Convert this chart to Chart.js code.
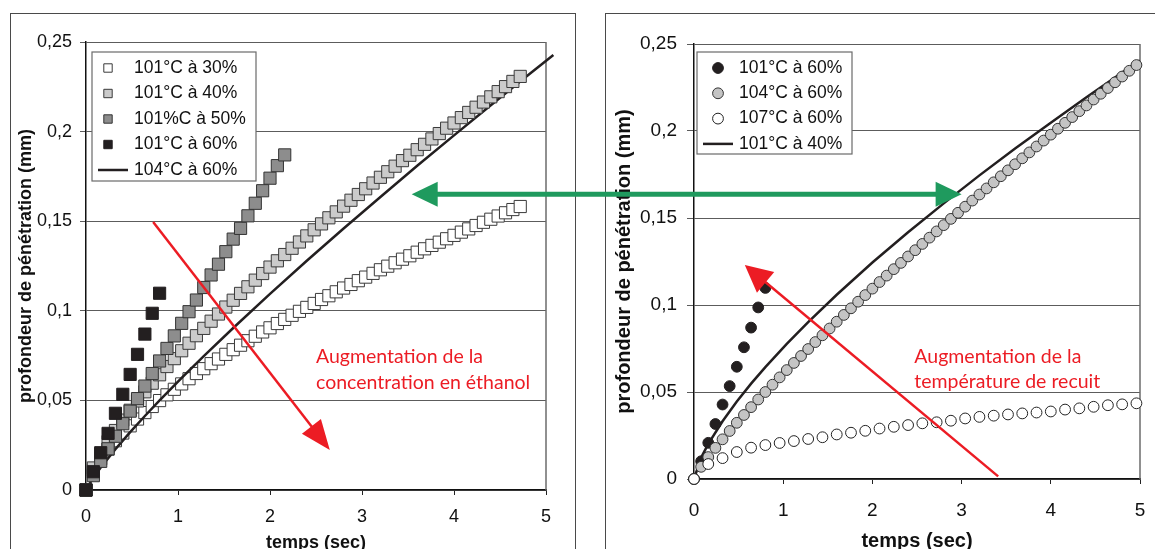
<!DOCTYPE html>
<html lang="fr">
<head>
<meta charset="utf-8">
<title>Profondeur de pénétration</title>
<script src="https://cdn.jsdelivr.net/npm/chart.js@4.4.1/dist/chart.umd.min.js"></script>
<style>
  html, body { margin: 0; padding: 0; background: #fff; }
  body { width: 1155px; height: 549px; position: relative; overflow: hidden; }
  .cadre { position: absolute; box-sizing: border-box; border: 1.5px solid #4a4a4a; border-bottom: none; }
  #cadreG { left: 10px; top: 13px; width: 566px; height: 600px; }
  #cadreD { left: 605px; top: 13px; width: 700px; height: 600px; }
  canvas { position: absolute; }
  #graphG { left: 10px; top: 13px; }
  #graphD { left: 605px; top: 13px; }
  #fleche { left: 0; top: 0; pointer-events: none; }
</style>
</head>
<body>
<div class="cadre" id="cadreG"></div>
<div class="cadre" id="cadreD"></div>
<canvas id="graphG" width="565" height="560"></canvas>
<canvas id="graphD" width="550" height="560"></canvas>
<canvas id="fleche" width="1155" height="549"></canvas>
<script>
// temps (sec), mesures toutes les 0,08 s
const t08 = [0, 0.08, 0.16, 0.24, 0.32, 0.4, 0.48, 0.56, 0.64, 0.72, 0.8, 0.88, 0.96, 1.04, 1.12, 1.2,
  1.28, 1.36, 1.44, 1.52, 1.6, 1.68, 1.76, 1.84, 1.92, 2, 2.08, 2.16, 2.24, 2.32, 2.4, 2.48, 2.56, 2.64,
  2.72, 2.8, 2.88, 2.96, 3.04, 3.12, 3.2, 3.28, 3.36, 3.44, 3.52, 3.6, 3.68, 3.76, 3.84, 3.92, 4, 4.08,
  4.16, 4.24, 4.32, 4.4, 4.48, 4.56, 4.64, 4.72, 4.8, 4.88, 4.96];
// temps (sec), mesures toutes les 0,16 s (107°C)
const t16 = [0, 0.16, 0.32, 0.48, 0.64, 0.8, 0.96, 1.12, 1.28, 1.44, 1.6, 1.76, 1.92, 2.08, 2.24, 2.4,
  2.56, 2.72, 2.88, 3.04, 3.2, 3.36, 3.52, 3.68, 3.84, 4, 4.16, 4.32, 4.48, 4.64, 4.8, 4.96];

// graphe de gauche : profondeur (mm)
const prof101a30 = [0, 0.0112, 0.0175, 0.0228, 0.0275, 0.0318, 0.0358, 0.0396, 0.0432, 0.0466, 0.0499,
  0.0531, 0.0562, 0.0592, 0.0621, 0.0650, 0.0677, 0.0705, 0.0731, 0.0757, 0.0783, 0.0808, 0.0833, 0.0858,
  0.0882, 0.0905, 0.0929, 0.0952, 0.0975, 0.0997, 0.1019, 0.1041, 0.1063, 0.1084, 0.1106, 0.1127, 0.1147,
  0.1168, 0.1188, 0.1209, 0.1229, 0.1249, 0.1268, 0.1288, 0.1307, 0.1327, 0.1346, 0.1365, 0.1383, 0.1402,
  0.1421, 0.1439, 0.1457, 0.1476, 0.1494, 0.1511, 0.1529, 0.1547, 0.1565, 0.1582];
const prof101a40 = [0, 0.0123, 0.0202, 0.0270, 0.0332, 0.0390, 0.0445, 0.0497, 0.0548, 0.0596, 0.0643,
  0.0689, 0.0733, 0.0777, 0.0819, 0.0861, 0.0902, 0.0942, 0.0982, 0.1021, 0.1059, 0.1097, 0.1134, 0.1171,
  0.1208, 0.1244, 0.1279, 0.1314, 0.1349, 0.1384, 0.1418, 0.1452, 0.1485, 0.1519, 0.1552, 0.1584, 0.1617,
  0.1649, 0.1681, 0.1713, 0.1745, 0.1776, 0.1807, 0.1838, 0.1868, 0.1899, 0.1929, 0.1959, 0.1989, 0.2019,
  0.2048, 0.2078, 0.2107, 0.2136, 0.2165, 0.2194, 0.2223, 0.2251, 0.2280, 0.2308];
const prof101a50 = [0, 0.008, 0.016, 0.023, 0.030, 0.037, 0.044, 0.051, 0.058, 0.065, 0.072, 0.079,
  0.086, 0.093, 0.0995, 0.106, 0.113, 0.120, 0.126, 0.133, 0.140, 0.146, 0.153, 0.160, 0.167, 0.174,
  0.181, 0.187];
const prof101a60 = [0, 0.0102, 0.0208, 0.0316, 0.0428, 0.0534, 0.0645, 0.0757, 0.087, 0.0986, 0.1098];
const tCourbe104 = [0, 0.08, 0.16, 0.32, 0.48, 0.64, 0.8, 1.04, 1.28, 1.6, 2, 2.4, 2.8, 3.2, 3.6, 4, 4.4, 4.8, 5.08];
const courbe104a60 = [0, 0.0070, 0.0126, 0.0228, 0.0323, 0.0413, 0.0500, 0.0626, 0.0747, 0.0904, 0.1094,
  0.1279, 0.1459, 0.1635, 0.1809, 0.1979, 0.2147, 0.2313, 0.2428];

// graphe de droite : profondeur (mm)
const prof104a60 = [0, 0.0070, 0.0126, 0.0179, 0.0228, 0.0276, 0.0323, 0.0368, 0.0413, 0.0457, 0.0500,
  0.0542, 0.0584, 0.0626, 0.0667, 0.0707, 0.0747, 0.0787, 0.0826, 0.0865, 0.0904, 0.0943, 0.0981, 0.1019,
  0.1057, 0.1094, 0.1132, 0.1169, 0.1206, 0.1242, 0.1279, 0.1315, 0.1351, 0.1387, 0.1423, 0.1459, 0.1495,
  0.1530, 0.1565, 0.1600, 0.1635, 0.1670, 0.1705, 0.1740, 0.1774, 0.1809, 0.1843, 0.1877, 0.1911, 0.1945,
  0.1979, 0.2013, 0.2047, 0.2080, 0.2114, 0.2147, 0.2181, 0.2214, 0.2247, 0.2280, 0.2313, 0.2346, 0.2379];
const prof107a60 = [0, 0.0086, 0.012, 0.0155, 0.018, 0.0195, 0.0207, 0.0218, 0.023, 0.024, 0.0256, 0.0266,
  0.0277, 0.029, 0.030, 0.031, 0.032, 0.0326, 0.0335, 0.0348, 0.0357, 0.0364, 0.0371, 0.0377, 0.0382,
  0.0388, 0.0399, 0.0406, 0.0415, 0.0424, 0.0429, 0.0435];
const tCourbe101 = [0, 0.08, 0.16, 0.32, 0.48, 0.64, 0.8, 1.04, 1.28, 1.6, 2, 2.4, 2.8, 3.2, 3.6, 4, 4.4, 4.8, 5];
const courbe101a40 = [0, 0.0123, 0.0202, 0.0332, 0.0445, 0.0548, 0.0643, 0.0777, 0.0902, 0.1059, 0.1244,
  0.1418, 0.1584, 0.1745, 0.1899, 0.2048, 0.2194, 0.2336, 0.2405];

const xTickLabels = ['0', '1', '2', '3', '4', '5'];
const yTickLabels = ['0', '0,05', '0,1', '0,15', '0,2', '0,25'];

const police = "'Liberation Sans', Arial, sans-serif";
const rouge = '#ec1c24';

function points(t, v) {
    return v.map(function (y, i) { return { x: t[i], y: y }; });
}

function marqueur(ctx, style, x, y, r, fond, trait) {
    ctx.beginPath();
    if (style === 'rect') ctx.rect(x - r, y - r, 2 * r, 2 * r);
    else ctx.arc(x, y, r, 0, 2 * Math.PI);
    ctx.fillStyle = fond;
    ctx.fill();
    ctx.lineWidth = 1;
    ctx.strokeStyle = trait;
    ctx.stroke();
}

function drawArrow(ctx, x1, y1, x2, y2, o) {
    const ang = Math.atan2(y2 - y1, x2 - x1);
    const c = Math.cos(ang), s = Math.sin(ang);
    const recul = o.head * 0.8;
    ctx.save();
    ctx.strokeStyle = o.color;
    ctx.fillStyle = o.color;
    ctx.lineWidth = o.width;
    ctx.beginPath();
    ctx.moveTo(o.both ? x1 + c * recul : x1, o.both ? y1 + s * recul : y1);
    ctx.lineTo(x2 - c * recul, y2 - s * recul);
    ctx.stroke();
    const pointes = o.both ? [[x2, y2, 1], [x1, y1, -1]] : [[x2, y2, 1]];
    pointes.forEach(function (p) {
        const cx = c * p[2], sy = s * p[2];
        ctx.beginPath();
        ctx.moveTo(p[0], p[1]);
        ctx.lineTo(p[0] - o.head * cx + o.half * sy, p[1] - o.head * sy - o.half * cx);
        ctx.lineTo(p[0] - o.head * cx - o.half * sy, p[1] - o.head * sy + o.half * cx);
        ctx.closePath();
        ctx.fill();
    });
    ctx.restore();
}

// bord droit de la zone de tracé
const bordDroit = {
    id: 'bordDroit',
    beforeDatasetsDraw(chart) {
        const a = chart.chartArea, ctx = chart.ctx;
        ctx.save();
        ctx.strokeStyle = '#6b6b6b';
        ctx.lineWidth = 1.5;
        ctx.beginPath();
        ctx.moveTo(a.right, a.top);
        ctx.lineTo(a.right, a.bottom);
        ctx.stroke();
        ctx.restore();
    }
};

// légende encadrée dans la zone de tracé
function legende(c) {
    return {
        id: 'legende',
        afterDraw(chart) {
            const ctx = chart.ctx, a = chart.chartArea;
            const x0 = a.left + c.dx, y0 = a.top + c.dy;
            ctx.save();
            ctx.fillStyle = '#fff';
            ctx.fillRect(x0, y0, c.w, c.h);
            ctx.strokeStyle = '#6a6a6a';
            ctx.lineWidth = 1.2;
            ctx.strokeRect(x0, y0, c.w, c.h);
            ctx.font = c.font;
            ctx.textBaseline = 'middle';
            ctx.textAlign = 'left';
            chart.data.datasets.forEach(function (ds, i) {
                const y = y0 + c.first + i * c.rowH;
                if (ds.showLine) {
                    ctx.strokeStyle = ds.borderColor;
                    ctx.lineWidth = ds.borderWidth;
                    ctx.beginPath();
                    ctx.moveTo(x0 + c.lineFrom, y);
                    ctx.lineTo(x0 + c.lineTo, y);
                    ctx.stroke();
                } else {
                    marqueur(ctx, ds.pointStyle, x0 + c.markX, y, c.markR, ds.backgroundColor, ds.borderColor);
                }
                ctx.fillStyle = '#111';
                ctx.fillText(ds.label, x0 + c.textX, y);
            });
            ctx.restore();
        }
    };
}

// flèche rouge et texte d'annotation, placés en unités des axes
function notes(c) {
    return {
        id: 'notes',
        afterDatasetsDraw(chart) {
            const ctx = chart.ctx, sx = chart.scales.x, sy = chart.scales.y;
            drawArrow(ctx, sx.getPixelForValue(c.from[0]), sy.getPixelForValue(c.from[1]),
                sx.getPixelForValue(c.to[0]), sy.getPixelForValue(c.to[1]),
                { color: rouge, width: 2.5, head: c.head, half: c.half });
            ctx.save();
            ctx.fillStyle = rouge;
            ctx.font = "19.5px Lato, 'Open Sans', sans-serif";
            ctx.textBaseline = 'middle';
            ctx.textAlign = 'left';
            c.lines.forEach(function (l) {
                ctx.fillText(l.text, sx.getPixelForValue(l.x), sy.getPixelForValue(l.y));
            });
            ctx.restore();
        }
    };
}

function axes(f) {
    return {
        x: {
            type: 'linear', min: 0, max: 5,
            ticks: {
                stepSize: 1, padding: f.xPad, color: '#111',
                font: { family: police, size: f.tick },
                callback: function (v) { return xTickLabels[Math.round(v)]; }
            },
            grid: { drawOnChartArea: false, tickLength: 5, color: '#222', lineWidth: 1 },
            border: { color: '#111', width: 1.5 },
            title: {
                display: true, text: 'temps (sec)', color: '#111',
                font: { family: police, size: f.title, weight: 'bold' },
                padding: { top: 0, bottom: f.xTitlePad }
            },
            afterFit: function (s) {
                s.height = f.xH;
                s.paddingLeft = 0;
                s.paddingRight = 0;
            }
        },
        y: {
            type: 'linear', min: 0, max: 0.25,
            ticks: {
                stepSize: 0.05, padding: f.yPad, color: '#111',
                font: { family: police, size: f.tick },
                callback: function (v) { return yTickLabels[Math.round(v / 0.05)]; }
            },
            grid: { color: '#5c5c5c', lineWidth: 1, tickLength: f.yTick },
            border: { color: '#111', width: 1.5 },
            title: {
                display: true, text: 'profondeur de pénétration (mm)', color: '#111',
                font: { family: police, size: f.title, weight: 'bold' },
                padding: { top: f.yTitlePad, bottom: 0 }
            },
            afterFit: function (s) {
                s.width = f.yW;
                s.paddingTop = 0;
                s.paddingBottom = 0;
            }
        }
    };
}

function baseOptions(pad, f) {
    return {
        responsive: false,
        animation: false,
        events: [],
        layout: { padding: pad },
        plugins: { legend: { display: false }, tooltip: { enabled: false } },
        scales: axes(f)
    };
}

Chart.defaults.font.family = police;

const carre = { pointStyle: 'rect', pointRadius: 8.6, borderWidth: 1, clip: false };
const rond = { pointStyle: 'circle', pointRadius: 5.4, borderWidth: 1, clip: false };

const graphG = new Chart(document.getElementById('graphG'), {
    type: 'scatter',
    data: {
        datasets: [
            Object.assign({ label: '101°C à 30%', data: points(t08, prof101a30), backgroundColor: '#ffffff', borderColor: '#3a3a3a', order: 5 }, carre),
            Object.assign({ label: '101°C à 40%', data: points(t08, prof101a40), backgroundColor: '#cbcbcb', borderColor: '#3a3a3a', order: 3 }, carre),
            Object.assign({ label: '101%C à 50%', data: points(t08, prof101a50), backgroundColor: '#8d8d8d', borderColor: '#333333', order: 2 }, carre),
            Object.assign({ label: '101°C à 60%', data: points(t08, prof101a60), backgroundColor: '#231f20', borderColor: '#231f20', order: 1 }, carre),
            { label: '104°C à 60%', data: points(tCourbe104, courbe104a60), showLine: true, pointRadius: 0,
              borderColor: '#231f20', backgroundColor: '#231f20', borderWidth: 2.5, clip: false, order: 4 }
        ]
    },
    options: baseOptions({ top: 29, right: 29, left: 0, bottom: 0 },
        { tick: 18, title: 18, xPad: 11, xTitlePad: 18.7, xH: 83, yPad: 8, yTick: 6, yTitlePad: 5, yW: 76 }),
    plugins: [bordDroit,
        legende({ dx: 6, dy: 10, w: 164, h: 129, first: 16, rowH: 25.5, markX: 16, markR: 4.2,
                  lineFrom: 6, lineTo: 36, textX: 42, font: "17.5px " + police }),
        notes({ from: [0.73, 0.1496], to: [2.65, 0.0223], head: 30, half: 12,
                lines: [{ text: 'Augmentation de la', x: 2.5, y: 0.0742 },
                        { text: 'concentration en éthanol', x: 2.5, y: 0.0597 }] })]
});

const graphD = new Chart(document.getElementById('graphD'), {
    type: 'scatter',
    data: {
        datasets: [
            Object.assign({ label: '101°C à 60%', data: points(t08, prof101a60), backgroundColor: '#231f20', borderColor: '#231f20', order: 3 }, rond),
            Object.assign({ label: '104°C à 60%', data: points(t08, prof104a60), backgroundColor: '#c4c4c4', borderColor: '#333333', order: 2 }, rond),
            Object.assign({ label: '107°C à 60%', data: points(t16, prof107a60), backgroundColor: '#ffffff', borderColor: '#222222', order: 1 }, rond),
            { label: '101°C à 40%', data: points(tCourbe101, courbe101a40), showLine: true, pointRadius: 0,
              borderColor: '#231f20', backgroundColor: '#231f20', borderWidth: 2.5, clip: false, order: 4 }
        ]
    },
    options: baseOptions({ top: 31, right: 15, left: 0, bottom: 0 },
        { tick: 19, title: 20, xPad: 15.6, xTitlePad: 20, xH: 94, yPad: 10, yTick: 7, yTitlePad: 7, yW: 89 }),
    plugins: [bordDroit,
        legende({ dx: 3, dy: 8, w: 155, h: 102, first: 16, rowH: 25.3, markX: 21, markR: 5.4,
                  lineFrom: 6, lineTo: 36, textX: 42, font: "17.5px " + police }),
        notes({ from: [3.41, 0.0015], to: [0.57, 0.123], head: 27, half: 13.5,
                lines: [{ text: 'Augmentation de la', x: 2.47, y: 0.070 },
                        { text: 'température de recuit', x: 2.47, y: 0.0557 }] })]
});

// flèche verte double reliant les deux graphes à 0,165 mm
function flecheVerte() {
    const ctx = document.getElementById('fleche').getContext('2d');
    const yG = graphG.scales.y.getPixelForValue(0.165) + 13;
    const xG = graphG.scales.x.getPixelForValue(3.54) + 10;
    const xD = graphD.scales.x.getPixelForValue(3.0) + 605;
    drawArrow(ctx, xG, yG, xD, yG, { color: '#1f9a5e', width: 5, head: 26, half: 12.5, both: true });
}
flecheVerte();
</script>
</body>
</html>
